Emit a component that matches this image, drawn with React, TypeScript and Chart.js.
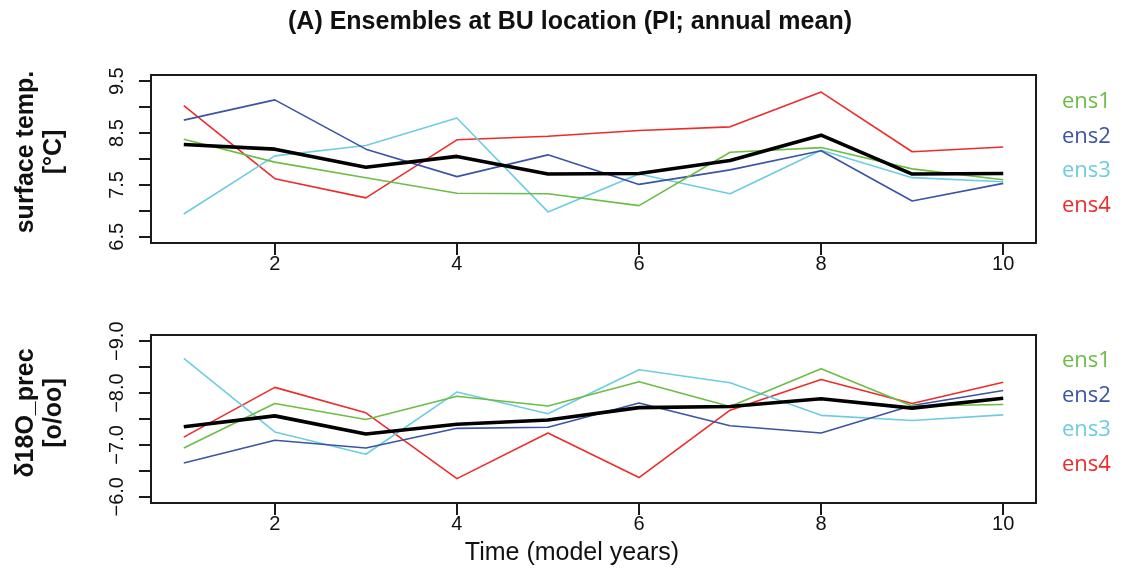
import React, { useEffect, useRef } from "react";
import { Chart, registerables } from "chart.js";

Chart.register(...registerables);

// ---------- data ----------
const years = [1, 2, 3, 4, 5, 6, 7, 8, 9, 10];
const seriesNames = ["ens1", "ens2", "ens3", "ens4"];

const tempEns1 = [8.38, 7.94, 7.64, 7.34, 7.33, 7.1, 8.13, 8.22, 7.81, 7.6];
const tempEns2 = [8.75, 9.14, 8.19, 7.66, 8.08, 7.51, 7.79, 8.16, 7.19, 7.53];
const tempEns3 = [6.94, 8.06, 8.26, 8.79, 6.98, 7.71, 7.33, 8.17, 7.64, 7.56];
const tempEns4 = [9.03, 7.62, 7.25, 8.37, 8.44, 8.55, 8.62, 9.29, 8.14, 8.23];
const tempMean = [8.28, 8.19, 7.84, 8.05, 7.71, 7.72, 7.97, 8.46, 7.71, 7.72];

const d18oEns1 = [-6.94, -7.8, -7.49, -7.94, -7.75, -8.22, -7.74, -8.47, -7.75, -7.78];
const d18oEns2 = [-6.65, -7.09, -6.94, -7.32, -7.34, -7.81, -7.37, -7.23, -7.76, -8.05];
const d18oEns3 = [-8.67, -7.25, -6.82, -8.02, -7.6, -8.45, -8.2, -7.57, -7.47, -7.58];
const d18oEns4 = [-7.15, -8.11, -7.62, -6.35, -7.23, -6.37, -7.67, -8.26, -7.8, -8.21];
const d18oMean = [-7.35, -7.56, -7.21, -7.4, -7.48, -7.72, -7.74, -7.89, -7.71, -7.9];

const xTickValues = [2, 4, 6, 8, 10];
const xTickLabels = ["2", "4", "6", "8", "10"];

const tempTickValues = [6.5, 7, 7.5, 8, 8.5, 9, 9.5];
const tempTickLabels = ["6.5", "", "7.5", "", "8.5", "", "9.5"];

const d18oTickValues = [-9, -8.5, -8, -7.5, -7, -6.5, -6];
const d18oTickLabels = ["\u22129.0", "", "\u22128.0", "", "\u22127.0", "", "\u22126.0"];

const mainTitle = "(A) Ensembles at BU location (PI; annual mean)";
const xTitle = "Time (model years)";

// ---------- styles ----------
const ensColors = ["#6cbd45", "#3b54a3", "#6dcde0", "#ee2b2b"];
const W = 1122;

function pts(vals: number[]) {
  return years.map((x, i) => ({ x, y: vals[i] }));
}

type PanelCfg = {
  ens: number[][];
  mean: number[];
  yMin: number;
  yMax: number;
  reverse: boolean;
  yTickValues: number[];
  yTickLabels: string[];
  yTitle: string[];
  yTitleCenterOffset: number;
  legendFirstBaseline: number;
  showMainTitle: boolean;
  showXTitle: boolean;
  padTop: number;
  padBottom: number;
};

function makePlugin(cfg: PanelCfg) {
  return {
    id: "rpanel",
    afterDraw(chart: any) {
      const ctx = chart.ctx;
      const a = chart.chartArea;
      const xs = chart.scales.x;
      const ys = chart.scales.y;
      ctx.save();
      // box
      ctx.strokeStyle = "#1a1a1a";
      ctx.lineWidth = 2;
      ctx.strokeRect(a.left, a.top, a.right - a.left, a.bottom - a.top);
      // y ticks
      ctx.beginPath();
      cfg.yTickValues.forEach((v) => {
        const py = Math.round(ys.getPixelForValue(v));
        ctx.moveTo(a.left, py);
        ctx.lineTo(a.left - 12, py);
      });
      // x ticks
      xTickValues.forEach((v) => {
        const px = Math.round(xs.getPixelForValue(v));
        ctx.moveTo(px, a.bottom);
        ctx.lineTo(px, a.bottom + 12);
      });
      ctx.stroke();

      // y tick labels (rotated)
      ctx.fillStyle = "#111";
      ctx.font = "20px 'Liberation Sans', Arial, sans-serif";
      ctx.textAlign = "center";
      ctx.textBaseline = "alphabetic";
      cfg.yTickValues.forEach((v, i) => {
        const lab = cfg.yTickLabels[i];
        if (!lab) return;
        const py = ys.getPixelForValue(v);
        ctx.save();
        ctx.translate(a.left - 28, py);
        ctx.rotate(-Math.PI / 2);
        ctx.fillText(lab, 0, 0);
        ctx.restore();
      });
      // x tick labels
      xTickValues.forEach((v, i) => {
        const px = xs.getPixelForValue(v);
        ctx.fillText(xTickLabels[i], px, a.bottom + 27);
      });

      // y title (two rotated lines)
      ctx.font = "bold 25px 'Liberation Sans', Arial, sans-serif";
      const cy = (a.top + a.bottom) / 2 + cfg.yTitleCenterOffset;
      const baselines = [33, 61];
      cfg.yTitle.forEach((line, i) => {
        ctx.save();
        ctx.translate(baselines[i], cy);
        ctx.rotate(-Math.PI / 2);
        ctx.fillText(line, 0, 0);
        ctx.restore();
      });

      // legend
      ctx.font = "22px 'Open Sans', 'Noto Sans', sans-serif";
      ctx.textAlign = "left";
      seriesNames.forEach((name, i) => {
        ctx.fillStyle = ensColors[i];
        ctx.fillText(name, 1062, a.top + cfg.legendFirstBaseline + i * 34.5);
      });

      ctx.fillStyle = "#111";
      if (cfg.showMainTitle) {
        ctx.font = "bold 25px 'Liberation Sans', Arial, sans-serif";
        ctx.textAlign = "center";
        ctx.fillText(mainTitle, 570, 29);
      }
      if (cfg.showXTitle) {
        ctx.font = "25px 'Liberation Sans', Arial, sans-serif";
        ctx.textAlign = "center";
        ctx.fillText(xTitle, 572, a.bottom + 57);
      }
      ctx.restore();
    },
  };
}

function Panel(props: { cfg: PanelCfg; top: number; height: number }) {
  const ref = useRef<HTMLCanvasElement | null>(null);
  const { cfg, top, height } = props;
  useEffect(() => {
    if (!ref.current) return;
    const datasets: any[] = [
      {
        label: "mean",
        data: pts(cfg.mean),
        borderColor: "#000000",
        borderWidth: 3.6,
        order: 0,
      },
      ...cfg.ens.map((vals, i) => ({
        label: seriesNames[i],
        data: pts(vals),
        borderColor: ensColors[i],
        borderWidth: 1.6,
        order: i + 1,
      })),
    ];
    const xPad = 0.04 * (years[years.length - 1] - years[0]);
    const chart = new Chart(ref.current, {
      type: "line",
      data: { datasets },
      options: {
        animation: false,
        responsive: false,
        devicePixelRatio: 1,
        events: [],
        layout: {
          padding: { left: 151, right: W - 1036, top: cfg.padTop, bottom: cfg.padBottom },
        },
        elements: {
          point: { radius: 0 },
          line: { tension: 0, fill: false, borderJoinStyle: "round", borderCapStyle: "butt" },
        },
        plugins: {
          legend: { display: false },
          tooltip: { enabled: false },
          title: { display: false },
        },
        scales: {
          x: {
            type: "linear",
            display: false,
            min: years[0] - xPad,
            max: years[years.length - 1] + xPad,
          },
          y: {
            type: "linear",
            display: false,
            min: cfg.yMin,
            max: cfg.yMax,
            reverse: cfg.reverse,
          },
        },
      },
      plugins: [makePlugin(cfg)],
    } as any);
    return () => chart.destroy();
  }, []);
  return (
    <canvas
      ref={ref}
      width={W}
      height={height}
      style={{ position: "absolute", left: 0, top, width: W, height }}
    />
  );
}

const tempRange = tempTickValues[tempTickValues.length - 1] - tempTickValues[0];
const d18oRange = d18oTickValues[d18oTickValues.length - 1] - d18oTickValues[0];

const topCfg: PanelCfg = {
  ens: [tempEns1, tempEns2, tempEns3, tempEns4],
  mean: tempMean,
  yMin: tempTickValues[0] - 0.04 * tempRange,
  yMax: tempTickValues[tempTickValues.length - 1] + 0.04 * tempRange,
  reverse: false,
  yTickValues: tempTickValues,
  yTickLabels: tempTickLabels,
  yTitle: ["surface temp.", "[\u00B0C]"],
  yTitleCenterOffset: -7,
  legendFirstBaseline: 33,
  showMainTitle: true,
  showXTitle: false,
  padTop: 75,
  padBottom: 290 - 243,
};

const bottomCfg: PanelCfg = {
  ens: [d18oEns1, d18oEns2, d18oEns3, d18oEns4],
  mean: d18oMean,
  yMin: d18oTickValues[0] - 0.04 * d18oRange,
  yMax: d18oTickValues[d18oTickValues.length - 1] + 0.04 * d18oRange,
  reverse: true,
  yTickValues: d18oTickValues,
  yTickLabels: d18oTickLabels,
  yTitle: ["\u03B418O_prec", "[o/oo]"],
  yTitleCenterOffset: -6,
  legendFirstBaseline: 32,
  showMainTitle: false,
  showXTitle: true,
  padTop: 335 - 290,
  padBottom: 572 - 503,
};

export default function App() {
  return (
    <div
      style={{
        position: "absolute",
        left: 0,
        top: 0,
        width: W,
        height: 572,
        background: "#ffffff",
        overflow: "hidden",
      }}
    >
      <Panel cfg={topCfg} top={0} height={290} />
      <Panel cfg={bottomCfg} top={290} height={282} />
    </div>
  );
}
